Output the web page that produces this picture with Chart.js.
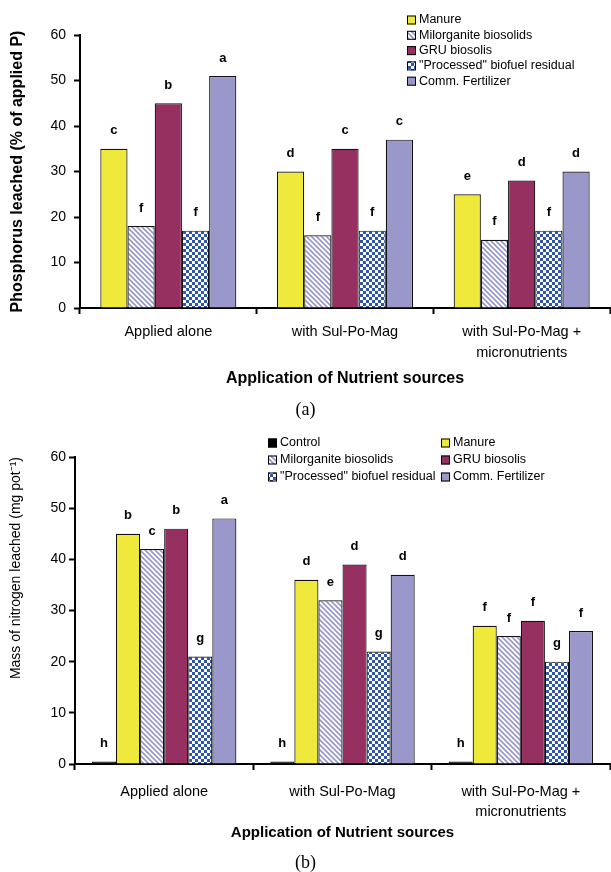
<!DOCTYPE html>
<html>
<head>
<meta charset="utf-8">
<script src="https://cdn.jsdelivr.net/npm/chart.js@4"></script>
<style>
    body { margin: 0; background: #fff; width: 611px; height: 872px; position: relative; overflow: hidden; }
    .panel { position: absolute; left: 0; }
    .caption { position: absolute; left: 0; width: 611px; text-align: center; font: 18px "Liberation Serif", "Times New Roman", serif; color: #000; }
</style>
</head>
<body>
<div class="panel" style="top:0"><canvas id="phosChart" width="611" height="400"></canvas></div>
<div class="caption" style="top:399px">(a)</div>
<div class="panel" style="top:420px"><canvas id="nitroChart" width="611" height="430"></canvas></div>
<div class="caption" style="top:852px">(b)</div>
<script>
const groups = ["Applied alone", "with Sul-Po-Mag", ["with Sul-Po-Mag +", "micronutrients"]];
const yTicks = { min: 0, max: 60, step: 10 };

// (a) phosphorus leached, % of applied P
const pManure = [35, 30, 25];
const pMilorganite = [18, 16, 15];
const pGru = [45, 35, 28];
const pProcessed = [17, 17, 17];
const pComm = [51, 37, 30];
const pManureTags = ["c", "d", "e"];
const pMilorganiteTags = ["f", "f", "f"];
const pGruTags = ["b", "c", "d"];
const pProcessedTags = ["f", "f", "f"];
const pCommTags = ["a", "c", "d"];

// (b) nitrogen leached, mg per pot
const nControl = [0.5, 0.5, 0.5];
const nManure = [45, 36, 27];
const nMilorganite = [42, 32, 25];
const nGru = [46, 39, 28];
const nProcessed = [21, 22, 20];
const nComm = [48, 37, 26];
const nControlTags = ["h", "h", "h"];
const nManureTags = ["b", "d", "f"];
const nMilorganiteTags = ["c", "e", "f"];
const nGruTags = ["b", "d", "f"];
const nProcessedTags = ["g", "g", "g"];
const nCommTags = ["a", "d", "f"];

const SANS = '"Liberation Sans", Arial, sans-serif';

function makeStripes() {
    const tile = document.createElement("canvas");
    tile.width = 5;
    tile.height = 5;
    const c = tile.getContext("2d");
    c.fillStyle = "#fff";
    c.fillRect(0, 0, 5, 5);
    c.strokeStyle = "#9898d0";
    c.lineWidth = 1.7;
    c.beginPath();
    c.moveTo(-1, -1); c.lineTo(6, 6);
    c.moveTo(-1, 4); c.lineTo(1, 6);
    c.moveTo(4, -1); c.lineTo(6, 1);
    c.stroke();
    return c.createPattern(tile, "repeat");
}

function makeChecks() {
    const tile = document.createElement("canvas");
    tile.width = 6;
    tile.height = 6;
    const c = tile.getContext("2d");
    c.fillStyle = "#fff";
    c.fillRect(0, 0, 6, 6);
    c.fillStyle = "#2f55ad";
    c.fillRect(0, 0, 3, 3);
    c.fillRect(3, 3, 3, 3);
    return c.createPattern(tile, "repeat");
}

const boxLegend = {
    id: "boxLegend",
    afterDraw(chart, args, opts) {
        const ctx = chart.ctx;
        ctx.save();
        ctx.font = `12.5px ${SANS}`;
        ctx.textBaseline = "middle";
        ctx.textAlign = "left";
        chart.data.datasets.forEach((ds, i) => {
            const col = i % opts.cols;
            const row = Math.floor(i / opts.cols);
            const x = opts.x + col * opts.colWidth;
            const y = opts.y + row * opts.rowGap;
            ctx.fillStyle = ds.backgroundColor;
            ctx.fillRect(x, y - 4.5, 9, 9);
            ctx.strokeStyle = "#000";
            ctx.lineWidth = 1;
            ctx.strokeRect(x + 0.5, y - 4, 8, 8);
            ctx.fillStyle = "#000";
            ctx.fillText(ds.label, x + 12, y);
        });
        ctx.restore();
    },
};

const letterTags = {
    id: "letterTags",
    afterDatasetsDraw(chart, args, opts) {
        const ctx = chart.ctx;
        ctx.save();
        ctx.font = `bold 13px ${SANS}`;
        ctx.fillStyle = "#000";
        ctx.textAlign = "center";
        ctx.textBaseline = "middle";
        chart.data.datasets.forEach((ds, i) => {
            chart.getDatasetMeta(i).data.forEach((bar, j) => {
                ctx.fillText(opts.tags[i][j], bar.x, bar.y - opts.gap);
            });
        });
        ctx.restore();
    },
};

function barSet(label, data, color, groupWidth) {
    return {
        label,
        data,
        backgroundColor: color,
        borderColor: "#111",
        borderWidth: 1.2,
        categoryPercentage: groupWidth,
        barPercentage: 1,
    };
}

function buildOptions(cfg) {
    return {
        responsive: false,
        animation: false,
        layout: { padding: { top: cfg.top, right: 1, left: 0, bottom: 0 } },
        plugins: {
            legend: { display: false },
            tooltip: { enabled: false },
            boxLegend: cfg.legend,
            letterTags: { tags: cfg.tags, gap: 18 },
        },
        scales: {
            x: {
                ticks: { color: "#000", padding: cfg.xPad, font: { family: SANS, size: 14.5, lineHeight: cfg.xLine } },
                grid: { offset: true, drawOnChartArea: false, tickLength: 6, tickColor: "#000", tickWidth: 2 },
                border: { color: "#000", width: 2 },
                title: {
                    display: true,
                    text: "Application of Nutrient sources",
                    color: "#000",
                    font: { family: SANS, size: cfg.xTitleSize, weight: "bold" },
                    padding: { top: 0, bottom: cfg.xTitleGap },
                },
                afterFit: (scale) => { scale.height = cfg.xHeight; },
            },
            y: {
                min: yTicks.min,
                max: yTicks.max,
                ticks: { stepSize: yTicks.step, color: "#000", padding: cfg.yPad, font: { family: SANS, size: 14 } },
                grid: { drawOnChartArea: false, tickLength: 6, tickColor: "#000", tickWidth: 2 },
                border: { color: "#000", width: 2 },
                title: {
                    display: true,
                    text: cfg.yTitle,
                    color: "#000",
                    align: cfg.yTitleAlign,
                    font: { family: SANS, size: cfg.yTitleSize, weight: cfg.yTitleWeight },
                    padding: { top: 8, bottom: 0 },
                },
                afterFit: (scale) => { scale.width = cfg.yWidth; },
            },
        },
    };
}

function initPhosChart(stripes, checks) {
    const gw = 0.77;
    new Chart(document.getElementById("phosChart"), {
        type: "bar",
        data: {
            labels: groups,
            datasets: [
                barSet("Manure", pManure, "#efe93c", gw),
                barSet("Milorganite biosolids", pMilorganite, stripes, gw),
                barSet("GRU biosolis", pGru, "#953060", gw),
                barSet("\"Processed\" biofuel residual", pProcessed, checks, gw),
                barSet("Comm. Fertilizer", pComm, "#9a98cb", gw),
            ],
        },
        options: buildOptions({
            top: 35,
            xPad: 7.5,
            xLine: 1.45,
            xTitleSize: 16,
            xTitleGap: 12,
            xHeight: 92,
            yPad: 8,
            yWidth: 80,
            yTitle: "Phosphorus leached (% of applied P)",
            yTitleWeight: "bold",
            yTitleSize: 16,
            yTitleAlign: "center",
            legend: { x: 407, y: 20, cols: 1, colWidth: 0, rowGap: 15.3 },
            tags: [pManureTags, pMilorganiteTags, pGruTags, pProcessedTags, pCommTags],
        }),
        plugins: [boxLegend, letterTags],
    });
}

function initNitroChart(stripes, checks) {
    const gw = 0.81;
    new Chart(document.getElementById("nitroChart"), {
        type: "bar",
        data: {
            labels: groups,
            datasets: [
                barSet("Control", nControl, "#000", gw),
                barSet("Manure", nManure, "#efe93c", gw),
                barSet("Milorganite biosolids", nMilorganite, stripes, gw),
                barSet("GRU biosolis", nGru, "#953060", gw),
                barSet("\"Processed\" biofuel residual", nProcessed, checks, gw),
                barSet("Comm. Fertilizer", nComm, "#9a98cb", gw),
            ],
        },
        options: buildOptions({
            top: 37,
            xPad: 11.5,
            xLine: 1.4,
            xTitleSize: 15,
            xTitleGap: 8,
            xHeight: 86,
            yPad: 3,
            yWidth: 75,
            yTitle: "Mass of nitrogen leached (mg pot\u207B\u00B9)",
            yTitleWeight: "normal",
            yTitleSize: 14,
            yTitleAlign: "end",
            legend: { x: 268, y: 23, cols: 2, colWidth: 173, rowGap: 17 },
            tags: [nControlTags, nManureTags, nMilorganiteTags, nGruTags, nProcessedTags, nCommTags],
        }),
        plugins: [boxLegend, letterTags],
    });
}

document.addEventListener("DOMContentLoaded", () => {
    const stripes = makeStripes();
    const checks = makeChecks();
    initPhosChart(stripes, checks);
    initNitroChart(stripes, checks);
});
</script>
</body>
</html>
